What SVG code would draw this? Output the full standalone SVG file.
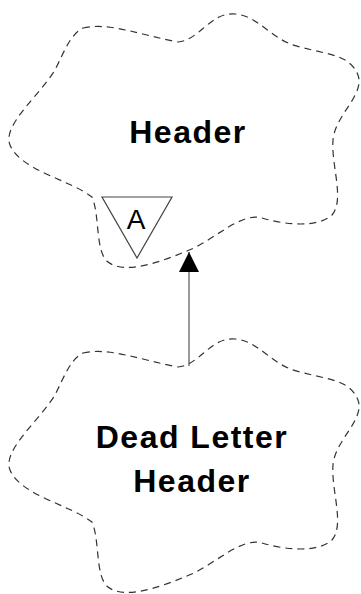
<svg xmlns="http://www.w3.org/2000/svg" width="361" height="594" viewBox="0 0 361 594">
<style>
.cloud{fill:none;stroke:#333;stroke-width:1.2;stroke-dasharray:7,5}
.lbl{font-family:"Liberation Sans",Arial,sans-serif;font-weight:bold;font-size:32px;letter-spacing:1.5px;fill:#000;text-anchor:middle}
.conn{stroke:#555;stroke-width:1.2;fill:none}
</style>
<defs>
<path id="cloudShape" d="M 83,28 C 110,22 140,35 178,42 C 200,40 210,12 235,14 C 260,16 270,40 300,47 C 330,55 350,55 358,75 C 365,95 335,115 333,140 C 331,165 345,200 332,215 C 318,228 285,225 262,218 C 240,212 215,240 187,251 C 160,262 125,275 108,262 C 95,252 100,215 92,197 C 70,180 20,170 10,145 C 2,125 40,95 55,70 C 65,50 70,35 83,28 Z"/>
<marker id="arr" markerWidth="22" markerHeight="20" refX="20" refY="10" orient="auto" markerUnits="userSpaceOnUse">
<path d="M0,0 L20,10 L0,20 Z" fill="#000"/>
</marker>
</defs>
<g id="node-header">
<use href="#cloudShape" class="cloud"/>
<text class="lbl" x="188" y="143">Header</text>
<g id="abstract-marker">
<polygon points="102,197 172,197 137,258" fill="#fff" stroke="#444" stroke-width="1.2"/>
<text x="136" y="229" font-family="Liberation Sans,Arial,sans-serif" font-size="28" text-anchor="middle" fill="#000">A</text>
</g>
</g>
<g id="node-deadletter">
<use href="#cloudShape" class="cloud" transform="translate(0,325)"/>
<text class="lbl" x="192" y="448">Dead Letter</text>
<text class="lbl" x="192" y="492">Header</text>
</g>
<g id="connectors">
<line class="conn" x1="189" y1="366" x2="189" y2="252" marker-end="url(#arr)"/>
</g>
</svg>
